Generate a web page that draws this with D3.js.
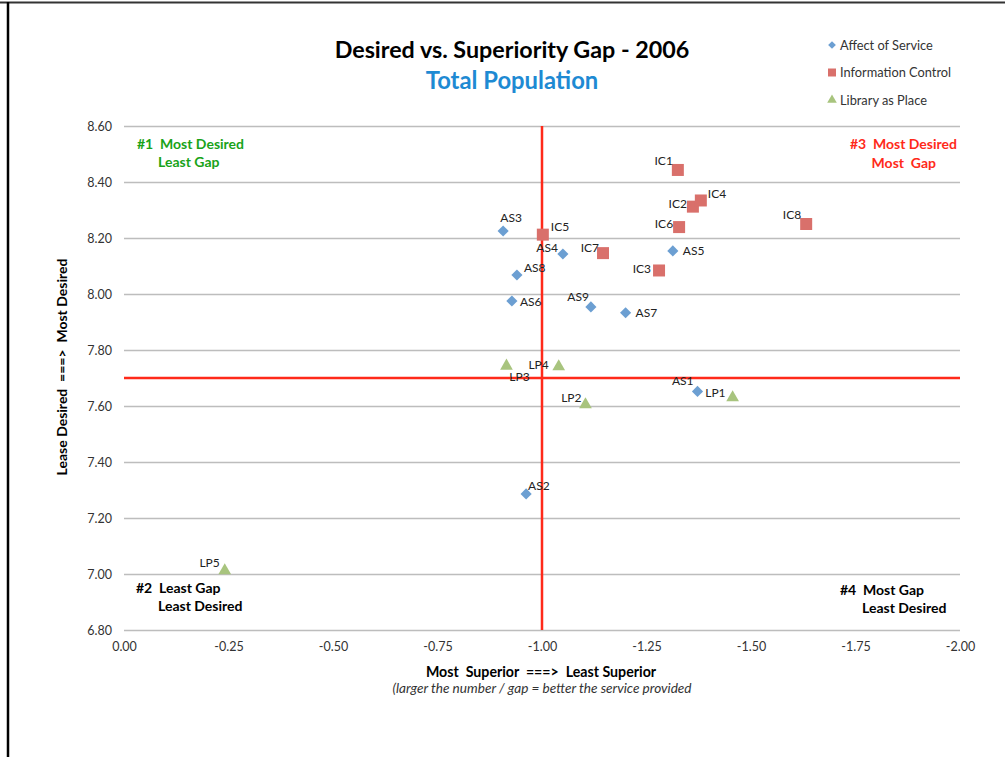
<!DOCTYPE html>
<html>
<head>
<meta charset="utf-8">
<script src="https://cdn.jsdelivr.net/npm/d3@7"></script>
<style>
  html, body { margin: 0; padding: 0; background: #fff; }
  svg { display: block; }
  text { font-family: Lato, "Open Sans", "DejaVu Sans", sans-serif; }
</style>
</head>
<body>
<svg id="chart" width="1005" height="757"></svg>
<script>
// Gap scores (x) and desired means (y) for each survey item
const affectNames = ["AS1", "AS2", "AS3", "AS4", "AS5", "AS6", "AS7", "AS8", "AS9"];
const affectGap = [-1.372, -0.962, -0.907, -1.050, -1.313, -0.928, -1.200, -0.940, -1.117];
const affectDesired = [7.652, 7.286, 8.225, 8.143, 8.154, 7.975, 7.933, 8.068, 7.954];

const infoNames = ["IC1", "IC2", "IC3", "IC4", "IC5", "IC6", "IC7", "IC8"];
const infoGap = [-1.325, -1.361, -1.280, -1.380, -1.002, -1.328, -1.146, -1.632];
const infoDesired = [8.443, 8.312, 8.084, 8.334, 8.212, 8.239, 8.146, 8.250];

const placeNames = ["LP1", "LP2", "LP3", "LP4", "LP5"];
const placeGap = [-1.456, -1.104, -0.915, -1.040, -0.241];
const placeDesired = [7.630, 7.605, 7.743, 7.741, 7.012];

const xTicks = [0, -0.25, -0.5, -0.75, -1.0, -1.25, -1.5, -1.75, -2.0];
const yTicks = [6.8, 7.0, 7.2, 7.4, 7.6, 7.8, 8.0, 8.2, 8.4, 8.6];

// Quadrant dividers
const gapDivider = -1.0;
const desiredDivider = 7.70;

const seriesNames = ["Affect of Service", "Information Control", "Library as Place"];

// Where each point's label sits relative to its marker
const labelSpot = {
  AS1: ["end", -4, -6], AS2: ["start", 2, -4], AS3: ["middle", 8, -9],
  AS4: ["end", -5, -2], AS5: ["start", 10, 4], AS6: ["start", 8, 5],
  AS7: ["start", 10, 4], AS8: ["start", 7, -3], AS9: ["end", -2, -6],
  IC1: ["end", -5, -5], IC2: ["end", -6, 1], IC3: ["end", -8, 3],
  IC4: ["start", 7, -2], IC5: ["start", 8, -4], IC6: ["end", -6, 1],
  IC7: ["end", -4, -1], IC8: ["end", -5, -5],
  LP1: ["end", -7, -1], LP2: ["end", -4, -3], LP3: ["middle", 13, 15],
  LP4: ["end", -10, 2], LP5: ["end", -5, -4]
};

const svg = d3.select("#chart");
const fmt = v => d3.format(".2f")(v).replace("\u2212", "-");

// Outer frame (top and left edges)
svg.append("line").attr("x1", 0).attr("x2", 1005).attr("y1", 2.5).attr("y2", 2.5)
  .attr("stroke", "#333").attr("stroke-width", 2);
svg.append("line").attr("x1", 8).attr("x2", 8).attr("y1", 2).attr("y2", 757)
  .attr("stroke", "#000").attr("stroke-width", 2.5);

const plot = { left: 124, right: 960, top: 126, bottom: 630 };
const x = d3.scaleLinear().domain([0, -2]).range([plot.left, plot.right]);
const y = d3.scaleLinear().domain([6.8, 8.6]).range([plot.bottom, plot.top]);

// Horizontal gridlines with y tick labels
const yAxis = d3.axisLeft(y).tickValues(yTicks).tickFormat(fmt)
  .tickSize(-(plot.right - plot.left)).tickPadding(12);
const gy = svg.append("g").attr("transform", `translate(${plot.left},0)`).call(yAxis);
gy.select(".domain").remove();
gy.selectAll(".tick line").attr("stroke", "#bdbdbd").attr("stroke-width", 1.3);
gy.selectAll(".tick text").attr("fill", "#333").style("font-size", "12.5px");

// Bottom axis labels
const xAxis = d3.axisBottom(x).tickValues(xTicks).tickFormat(fmt)
  .tickSize(0).tickPadding(12);
const gx = svg.append("g").attr("transform", `translate(0,${plot.bottom})`).call(xAxis);
gx.select(".domain").remove();
gx.selectAll(".tick text").attr("fill", "#333").style("font-size", "12.5px");

// Quadrant dividers
svg.append("line")
  .attr("x1", x(gapDivider)).attr("x2", x(gapDivider))
  .attr("y1", plot.top).attr("y2", plot.bottom)
  .attr("stroke", "#ff2a1a").attr("stroke-width", 2.5);
svg.append("line")
  .attr("x1", plot.left).attr("x2", plot.right)
  .attr("y1", y(desiredDivider)).attr("y2", y(desiredDivider))
  .attr("stroke", "#ff2a1a").attr("stroke-width", 2.5);

// Series definitions and marker shapes
const series = [
  { name: seriesNames[0], labels: affectNames, xs: affectGap, ys: affectDesired,
    color: "#6c9fd2", shape: d3.symbolDiamond, size: 62, turn: 45, square: true },
  { name: seriesNames[1], labels: infoNames, xs: infoGap, ys: infoDesired,
    color: "#d9706b", shape: d3.symbolSquare, size: 144, turn: 0 },
  { name: seriesNames[2], labels: placeNames, xs: placeGap, ys: placeDesired,
    color: "#a8c47e", shape: d3.symbolTriangle, size: 70, turn: 0 }
];

function markerPath(s, size) {
  // the diamond is a rotated square so its proportions stay even
  return d3.symbol().type(s.square ? d3.symbolSquare : s.shape).size(size)();
}

const pts = svg.append("g");
series.forEach(s => {
  const data = s.labels.map((lab, i) => ({ lab, gx: s.xs[i], dy: s.ys[i] }));
  pts.selectAll(null).data(data).enter().append("path")
    .attr("d", markerPath(s, s.size))
    .attr("transform", d => `translate(${x(d.gx)},${y(d.dy)}) rotate(${s.turn})`)
    .attr("fill", s.color);
  pts.selectAll(null).data(data).enter().append("text")
    .attr("x", d => x(d.gx) + labelSpot[d.lab][1])
    .attr("y", d => y(d.dy) + labelSpot[d.lab][2])
    .attr("text-anchor", d => labelSpot[d.lab][0])
    .attr("fill", "#222").style("font-size", "12px")
    .text(d => d.lab);
});

// Title block
svg.append("text").attr("x", 512).attr("y", 58).attr("text-anchor", "middle")
  .style("font-size", "23.3px").style("font-weight", "bold").attr("fill", "#000")
  .text("Desired vs. Superiority Gap - 2006");
svg.append("text").attr("x", 512).attr("y", 89).attr("text-anchor", "middle")
  .style("font-size", "23.8px").style("font-weight", "bold").attr("fill", "#1e8ad3")
  .text("Total Population");

// Legend
const legend = svg.append("g").attr("transform", "translate(832,45)");
series.forEach((s, i) => {
  const row = legend.append("g").attr("transform", `translate(0,${i * 27.5})`);
  row.append("path").attr("d", markerPath(s, s.square ? 30 : (s.shape === d3.symbolSquare ? 64 : 40)))
    .attr("transform", `rotate(${s.turn})`).attr("fill", s.color);
  row.append("text").attr("x", 8).attr("y", 4.5).style("font-size", "12.8px")
    .attr("fill", "#333").text(s.name);
});

// Quadrant captions
const caption = (lines, color) => lines.forEach(([tx, ty, anchor, str]) => {
  svg.append("text").attr("x", tx).attr("y", ty).attr("text-anchor", anchor)
    .style("font-size", "14px").style("font-weight", "bold").attr("fill", color)
    .attr("xml:space", "preserve").text(str);
});
caption([[137, 149, "start", "#1  Most Desired"], [158, 167, "start", "Least Gap"]], "#19a319");
caption([[957, 149, "end", "#3  Most Desired"], [936, 168, "end", "Most  Gap"]], "#ff2a1a");
caption([[136, 593, "start", "#2  Least Gap"], [158, 611, "start", "Least Desired"]], "#000");
caption([[840, 595, "start", "#4  Most Gap"], [862, 613, "start", "Least Desired"]], "#000");

// Axis titles
svg.append("text").attr("x", 541).attr("y", 677).attr("text-anchor", "middle")
  .style("font-size", "14.2px").style("font-weight", "bold").attr("xml:space", "preserve")
  .text("Most  Superior  ===>  Least Superior");
svg.append("text").attr("x", 542).attr("y", 693).attr("text-anchor", "middle")
  .style("font-size", "13.6px").style("font-style", "italic").attr("fill", "#333")
  .text("(larger the number / gap = better the service provided");
svg.append("text").attr("transform", "translate(67,367) rotate(-90)")
  .attr("text-anchor", "middle").style("font-size", "14px").style("font-weight", "bold")
  .attr("xml:space", "preserve").text("Lease Desired  ===>  Most Desired");
</script>
</body>
</html>
